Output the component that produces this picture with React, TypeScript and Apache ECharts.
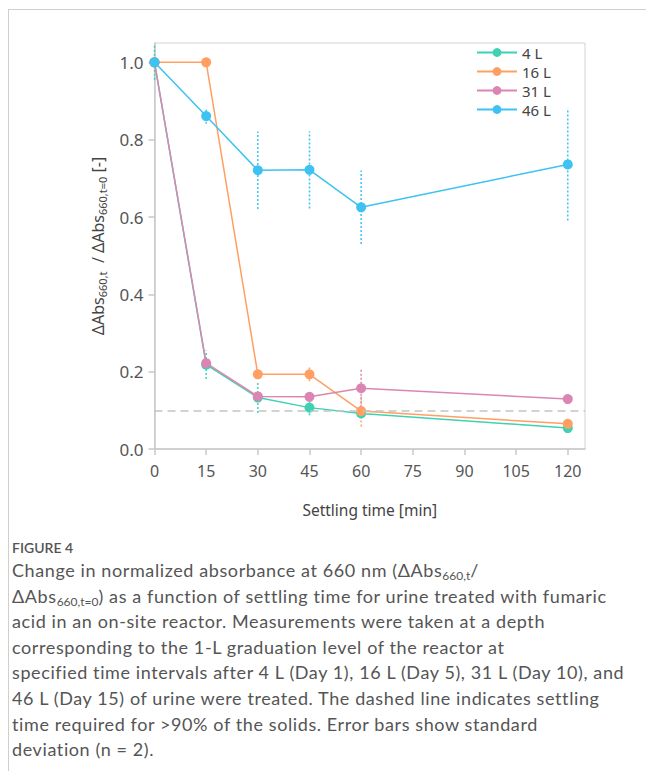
import React, { useEffect, useRef } from "react";
import * as echarts from "echarts";

const times = [0, 15, 30, 45, 60, 120];
const xTicks = [0, 15, 30, 45, 60, 75, 90, 105, 120];
const yTicks = [0, 0.2, 0.4, 0.6, 0.8, 1.0];
const seriesNames = ["4 L", "16 L", "31 L", "46 L"];
const colors = ["#3fd2b2", "#ff9f63", "#db86b2", "#3dc2f2"];
const v4 = [1.0, 0.218, 0.133, 0.107, 0.092, 0.054];
const v16 = [1.0, 1.0, 0.193, 0.193, 0.098, 0.065];
const v31 = [1.0, 0.222, 0.136, 0.135, 0.157, 0.129];
const v46 = [1.0, 0.861, 0.721, 0.722, 0.625, 0.736];
const sd4 = [0.045, 0.037, 0.04, 0.02, 0.01, 0.01];
const sd16 = [0, 0, 0, 0.018, 0.04, 0.008];
const sd31 = [0, 0.01, 0.01, 0.005, 0.05, 0.005];
const sd46 = [0, 0.02, 0.1, 0.1, 0.095, 0.145];
const threshold = 0.1;

const values = [v4, v16, v31, v46];
const sds = [sd4, sd16, sd31, sd46];

const chartFont = "'Noto Sans', sans-serif";

export default function App() {
  const ref = useRef<HTMLDivElement>(null);
  useEffect(() => {
    if (!ref.current) return;
    const chart = echarts.init(ref.current, undefined, { renderer: "svg" });
    const lineSeries: any[] = values.map((vals, i) => ({
      name: seriesNames[i],
      type: "line",
      z: 3,
      data: times.map((t, k) => [t, vals[k]]),
      symbol: "circle",
      symbolSize: 10,
      color: colors[i],
      lineStyle: { width: 1.5, color: colors[i] },
      itemStyle: { color: colors[i] },
      ...(i === 0
        ? {
            markLine: {
              silent: true,
              symbol: "none",
              label: { show: false },
              lineStyle: { type: [8, 5], color: "#c4c4c4", width: 1.5 },
              data: [{ yAxis: threshold }],
            },
          }
        : {}),
    }));
    const errSeries: any[] = values.map((vals, i) => ({
      name: seriesNames[i] + " sd",
      type: "custom",
      z: 1,
      data: times
        .map((t, k) => [t, vals[k] - sds[i][k], vals[k] + sds[i][k]])
        .filter((d, k) => sds[i][k] > 0),
      encode: { x: 0, y: [1, 2] },
      renderItem: (params: any, api: any) => {
        const x = api.value(0);
        const p1 = api.coord([x, api.value(1)]);
        const p2 = api.coord([x, api.value(2)]);
        return {
          type: "line",
          shape: { x1: p1[0], y1: p1[1], x2: p2[0], y2: p2[1] },
          style: { stroke: colors[i], lineWidth: 1.5, lineDash: [2, 2] },
        };
      },
    }));
    chart.setOption({
      animation: false,
      textStyle: { fontFamily: chartFont },
      grid: {
        left: 154.5,
        right: 61,
        top: 43,
        bottom: 81,
        show: true,
        borderColor: "#d2d2d2",
        borderWidth: 1,
      },
      legend: {
        data: seriesNames,
        orient: "vertical",
        left: 476,
        top: 45,
        padding: 0,
        itemWidth: 40,
        itemHeight: 11,
        itemGap: 4,
        textStyle: { fontSize: 15, color: "#444", fontFamily: chartFont },
      },
      xAxis: {
        type: "value",
        min: 0,
        max: 125,
        interval: 15,
        name: "Settling time [min]",
        nameLocation: "middle",
        nameGap: 53,
        nameTextStyle: { fontSize: 15.5, color: "#444" },
        axisLine: { show: true, lineStyle: { color: "#c8c8c8", width: 1.5 } },
        axisTick: { show: true, length: 6, lineStyle: { color: "#c8c8c8", width: 1.5 }, customValues: xTicks },
        axisLabel: { fontSize: 16, color: "#555", margin: 14, customValues: xTicks },
        splitLine: { show: false },
      },
      yAxis: {
        type: "value",
        min: 0,
        max: 1.05,
        interval: 0.2,
        name: "{m|ΔAbs}{s|660,t}{m|  / ΔAbs}{s|660,t=0}{m| [-]}",
        nameLocation: "middle",
        nameGap: 47,
        nameTextStyle: {
          rich: {
            m: { fontSize: 16, color: "#444", lineHeight: 20, fontFamily: chartFont },
            s: { fontSize: 11, color: "#444", lineHeight: 11, verticalAlign: "bottom", fontFamily: chartFont },
          },
        },
        axisLine: { show: true, lineStyle: { color: "#c8c8c8", width: 1.5 } },
        axisTick: { show: true, length: 6, lineStyle: { color: "#c8c8c8", width: 1.5 }, customValues: yTicks },
        axisLabel: {
          fontSize: 17,
          color: "#555",
          margin: 11,
          customValues: yTicks,
          formatter: (v: number) => v.toFixed(1),
        },
        splitLine: { show: false },
      },
      series: [...errSeries, ...lineSeries],
    });
    return () => chart.dispose();
  }, []);

  const capLine: React.CSSProperties = { whiteSpace: "nowrap", height: 25.6, lineHeight: "25.6px" };
  const sub: React.CSSProperties = { fontSize: 12, verticalAlign: "-3px", lineHeight: 0, letterSpacing: 0 };

  return (
    <div style={{ position: "fixed", left: 0, top: 0, width: 646, height: 771, background: "#fff", overflow: "hidden" }}>
      <div
        style={{
          position: "absolute",
          left: 8,
          top: 9,
          width: 700,
          height: 800,
          borderTop: "1px solid #cfcfcf",
          borderLeft: "1px solid #cfcfcf",
        }}
      />
      <div ref={ref} style={{ position: "absolute", left: 0, top: 0, width: 646, height: 530 }} />
      <div
        style={{
          position: "absolute",
          left: 12,
          top: 538,
          fontFamily: "Lato, sans-serif",
          color: "#555",
          fontSize: 18,
          letterSpacing: "0.6px",
        }}
      >
        <div style={{ fontSize: 14, fontWeight: 600, height: 20, lineHeight: "20px", color: "#555", letterSpacing: 0 }}>
          FIGURE 4
        </div>
        <div style={capLine}>
          Change in normalized absorbance at 660 nm (ΔAbs<span style={sub}>660,t</span>/
        </div>
        <div style={capLine}>
          ΔAbs<span style={sub}>660,t=0</span>) as a function of settling time for urine treated with fumaric
        </div>
        <div style={capLine}>acid in an on-site reactor. Measurements were taken at a depth</div>
        <div style={capLine}>corresponding to the 1-L graduation level of the reactor at</div>
        <div style={capLine}>specified time intervals after 4 L (Day 1), 16 L (Day 5), 31 L (Day 10), and</div>
        <div style={capLine}>46 L (Day 15) of urine were treated. The dashed line indicates settling</div>
        <div style={capLine}>time required for &gt;90% of the solids. Error bars show standard</div>
        <div style={capLine}>deviation (n = 2).</div>
      </div>
    </div>
  );
}
